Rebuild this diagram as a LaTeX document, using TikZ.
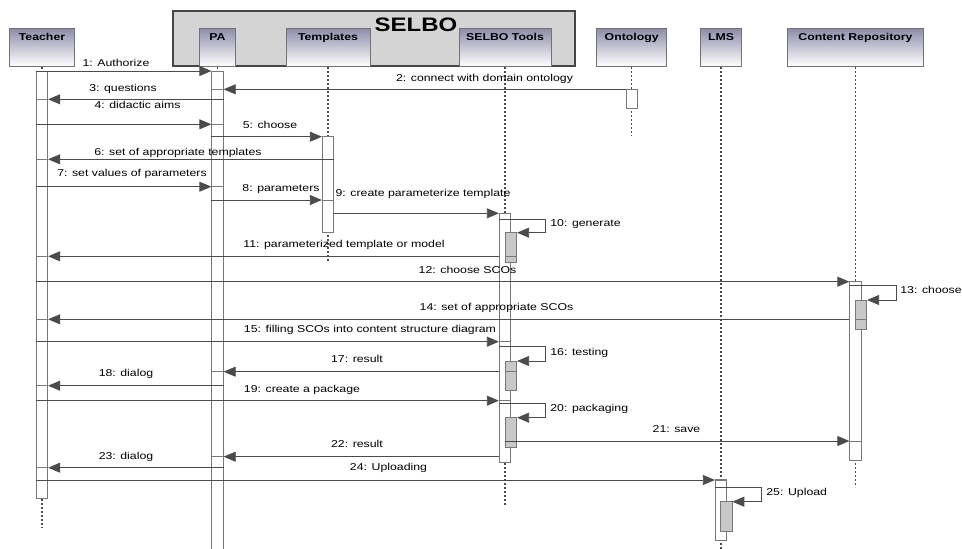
\documentclass[tikz,border=0pt]{standalone}
\usepackage{fontspec}
\usetikzlibrary{arrows.meta}
\newfontfamily\lblfont[FakeStretch=1.23]{Liberation Sans}
\definecolor{msgc}{RGB}{75,75,75}
\definecolor{barc}{RGB}{120,120,120}
\definecolor{headc}{RGB}{115,115,115}
\definecolor{shadec}{RGB}{142,142,172}
\definecolor{framec}{RGB}{212,212,212}
\definecolor{framed}{RGB}{70,70,70}
\definecolor{subc}{RGB}{200,200,200}

\begin{document}
\begin{tikzpicture}[x=1pt,y=-1pt,line width=0.8pt,
  head/.style={draw=headc,line width=1pt,top color=shadec,bottom color=white,anchor=north,
    minimum height=38,inner ysep=3pt,text height=9pt,text depth=23pt,
    font=\lblfont\bfseries\fontsize{10}{12}\selectfont},
  bar/.style={draw=barc,fill=white,minimum width=11.5,inner sep=0pt},
  subbar/.style={draw=barc,fill=subc,minimum width=11.4,inner sep=0pt},
  life/.style={draw=msgc,line width=1.5pt,dash pattern=on 1.8pt off 2.2pt},
  msg/.style={draw=msgc,line width=0.8pt,-{Triangle[length=12pt,width=10pt]}},
  seg/.style={draw=barc,line width=0.8pt},
  lbl/.style={font=\lblfont\fontsize{10}{12}\selectfont,anchor=base,inner sep=0pt}]
\path[use as bounding box,fill=white] (0,0) rectangle (962,549);
% SELBO frame
\draw[draw=framed,fill=framec,line width=1.2pt] (173,11) rectangle (575,66);
\node[font=\lblfont\bfseries\fontsize{19.5}{22}\selectfont,anchor=base,inner sep=0pt] (selbo) at (416,31.5) {SELBO};
% heads
\node[head,minimum width=65] (teacher) at (42,28) {Teacher};
\node[head,minimum width=36] (pa) at (217.5,28) {PA};
\node[head,minimum width=84] (tmpl) at (328,28) {Templates};
\node[head,minimum width=92] (tools) at (505,28) {SELBO Tools};
\node[head,minimum width=70] (onto) at (631.7,28) {Ontology};
\node[head,minimum width=41] (lms) at (721,28) {LMS};
\node[head,minimum width=136] (repo) at (855.5,28) {Content Repository};
% lifelines
\draw[life] (teacher.south) -- ++(0,461);
\draw[life] (pa.south) -- ++(0,5);
\draw[life] (tmpl.south) -- ++(0,196);
\draw[life] (tools.south) -- ++(0,439);
\draw[life] (onto.south) -- ++(0,69);
\draw[life] (lms.south) -- ++(0,483);
\draw[life] (repo.south) -- ++(0,420);
% activations
\node[bar,minimum height=427] (tbar) at (42,284.5) {};
\node[bar,minimum height=484] (pabar) at (217.5,313) {};
\node[bar,minimum height=95.6] (tmbar) at (328,184.5) {};
\node[bar,minimum height=249.4] (stbar) at (505,338) {};
\node[bar,minimum height=19] (onbar) at (631.7,98.8) {};
\node[bar,minimum height=178.3] (crbar) at (855.5,370.9) {};
\node[bar,minimum height=60.7] (lmsbar) at (721,509.7) {};
\node[subbar,minimum height=29.6] (st1) at (511,247.5) {};
\node[subbar,minimum height=29] (st2) at (511,375.5) {};
\node[subbar,minimum height=30] (st3) at (511,432.7) {};
\node[subbar,minimum height=29.3] (cr1) at (861,314.7) {};
\node[subbar,minimum height=29.3] (lms1) at (726.2,516.4) {};
\foreach \b/\y in {st1/256.5,st2/371.7,cr1/319.3}
  \draw[seg] (\b.west |- 0,\y) -- (\b.east |- 0,\y);
% messages
\foreach \n/\y/\s/\t/\f/\lx/\ly/\txt in {
  1/71/tbar.west/pabar.west/pabar.east/116/66/Authorize,
  2/89.3/onbar.west/pabar.east/pabar.west/484.5/81.5/connect with domain ontology,
  3/99.3/pabar.east/tbar.east/tbar.west/123/91/questions,
  4/124.3/tbar.west/pabar.west/pabar.east/137.5/108.5/didactic aims,
  5/136.7/pabar.west/tmbar.west/tmbar.east/270/128/choose,
  6/159.3/tmbar.east/tbar.east/tbar.west/178/155.5/set of appropriate templates,
  7/186.7/tbar.west/pabar.west/pabar.east/132/176/set values of parameters,
  8/200/pabar.west/tmbar.west/tmbar.east/281/191/parameters,
  9/213.3/tmbar.east/stbar.west/stbar.east/423/196/create parameterize template,
  11/256.3/stbar.west/tbar.east/tbar.west/344/247/parameterized template or model,
  12/281.7/tbar.west/crbar.west/crbar.east/467.5/273/choose SCOs,
  14/319.3/crbar.west/tbar.east/tbar.west/496.5/310.7/set of appropriate SCOs,
  15/341.7/tbar.west/stbar.west/stbar.east/370/332/filling SCOs into content structure diagram,
  17/371.7/stbar.west/pabar.east/pabar.west/357/362/result,
  18/385.7/pabar.east/tbar.east/tbar.west/126/376/dialog,
  19/400.7/tbar.west/stbar.west/stbar.east/302/392/create a package,
  21/441/st3.west/crbar.west/crbar.east/676.5/432/save,
  22/456.7/stbar.west/pabar.east/pabar.west/357/447/result,
  23/467.7/pabar.east/tbar.east/tbar.west/126/459/dialog,
  24/480/tbar.west/lmsbar.west/lmsbar.east/388.5/470.5/Uploading}{
  \draw[msg] (\s |- 0,\y) -- (\t |- 0,\y);
  \draw[seg] (\t |- 0,\y) -- (\f |- 0,\y);
  \node[lbl] (m\n) at (\lx,\ly) {\n: \txt};
}
% self calls
\draw[msg] (stbar.west |- 0,219.3) -| (545.7,232.7) -- (st1.east |- 0,232.7);
\node[lbl,anchor=base west] (m10) at (550,226.5) {10: generate};
\draw[msg] (crbar.west |- 0,285.7) -| (896,300) -- (cr1.east |- 0,300);
\node[lbl,anchor=base west] (m13) at (900,293) {13: choose};
\draw[msg] (stbar.west |- 0,346) -| (545.7,361) -- (st2.east |- 0,361);
\node[lbl,anchor=base west] (m16) at (550,355) {16: testing};
\draw[msg] (stbar.west |- 0,403.3) -| (545.7,417.7) -- (st3.east |- 0,417.7);
\node[lbl,anchor=base west] (m20) at (550,411.5) {20: packaging};
\draw[msg] (lmsbar.west |- 0,487.3) -| (761,501.7) -- (lms1.east |- 0,501.7);
\node[lbl,anchor=base west] (m25) at (766,495.5) {25: Upload};
\end{tikzpicture}
\end{document}
